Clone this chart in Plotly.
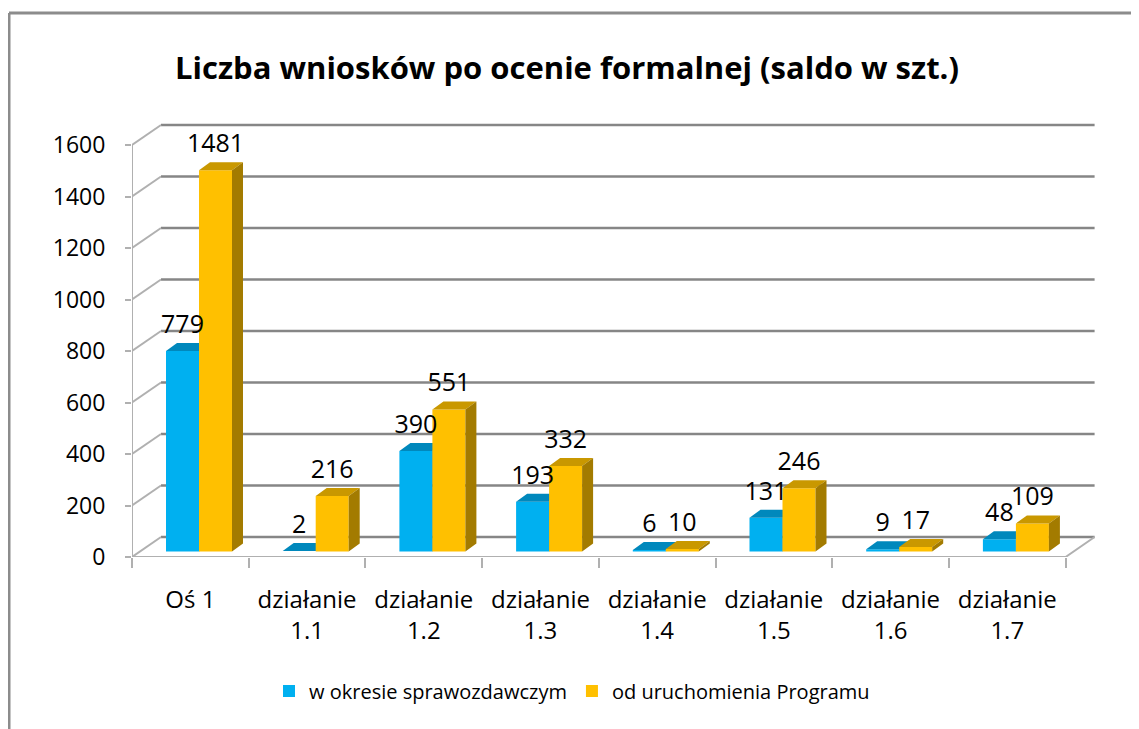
import plotly.graph_objects as go

# ---------------- data ----------------
categories = ["Oś 1", "działanie<br>1.1", "działanie<br>1.2", "działanie<br>1.3",
              "działanie<br>1.4", "działanie<br>1.5", "działanie<br>1.6", "działanie<br>1.7"]
w_okresie = [779, 2, 390, 193, 6, 131, 9, 48]
od_uruchomienia = [1481, 216, 551, 332, 10, 246, 17, 109]
series_names = ["w okresie sprawozdawczym", "od uruchomienia Programu"]
y_ticks = [0, 200, 400, 600, 800, 1000, 1200, 1400, 1600]
title_text = "Liczba wniosków po ocenie formalnej (saldo w szt.)"

# ---------------- geometry (pixels -> axis units) ----------------
W, H = 1139, 729          # window size
OFF = 8                   # page body margin
FIG_W, FIG_H = W - OFF, H - OFF
L_PX, R_PX, T_PX, B_PX = 132, 1100, 118, 557   # plot area in window pixels
CAT_PX = 116.7
PX_PER_UNIT = 412 / 1600
X_MIN = -0.5
X_MAX = X_MIN + (R_PX - L_PX) / CAT_PX
Y_MAX = (B_PX - T_PX) / PX_PER_UNIT
N = len(categories)


def ux(px):
    return px / CAT_PX


def uy(px):
    return px / PX_PER_UNIT


WALL_DX, WALL_DY = ux(29), uy(20)
BAR_BASE = uy(5.5)
DEPTH_DX, DEPTH_DY = ux(11), uy(8)
BAR_W = ux(33)
BAR0 = ux(34) - 0.5  # left edge of first bar relative to category centre

FONT = "Open Sans"
GRID_DARK = "#868686"
GRID_LIGHT = "#b0b0b0"

colors = [
    dict(front="#00B0F0", top="#0088BC", side="#0078A6"),
    dict(front="#FFC000", top="#C99800", side="#A37B00"),
]

fig = go.Figure()

# ---------------- walls / grid ----------------
gx, gy = [], []
for v in y_ticks:
    gx += [X_MIN + WALL_DX, N - 0.5 + WALL_DX, None]
    gy += [v + WALL_DY, v + WALL_DY, None]
fig.add_trace(go.Scatter(x=gx, y=gy, mode="lines", line=dict(color=GRID_DARK, width=2.5),
                         hoverinfo="skip", showlegend=False, cliponaxis=False))

cx, cy = [], []
for v in y_ticks:
    cx += [X_MIN, X_MIN + WALL_DX, None]
    cy += [v, v + WALL_DY, None]
cx += [X_MIN, X_MIN, None]
cy += [y_ticks[0], y_ticks[-1], None]
cx += [X_MIN, N - 0.5, N - 0.5 + WALL_DX, None]
cy += [0, 0, WALL_DY, None]
fig.add_trace(go.Scatter(x=cx, y=cy, mode="lines", line=dict(color=GRID_LIGHT, width=2),
                         hoverinfo="skip", showlegend=False, cliponaxis=False))

# ---------------- 3D bars ----------------
for s, vals in enumerate([w_okresie, od_uruchomienia]):
    fx, fy, tx, ty, sx, sy = [], [], [], [], [], []
    for i, v in enumerate(vals):
        x0 = i + BAR0 + s * BAR_W
        x1 = x0 + BAR_W
        b = BAR_BASE
        fx += [x0, x1, x1, x0, x0, None]
        fy += [b, b, b + v, b + v, b, None]
        tx += [x0, x1, x1 + DEPTH_DX, x0 + DEPTH_DX, x0, None]
        ty += [b + v, b + v, b + v + DEPTH_DY, b + v + DEPTH_DY, b + v, None]
        sx += [x1, x1 + DEPTH_DX, x1 + DEPTH_DX, x1, x1, None]
        sy += [b, b + DEPTH_DY, b + v + DEPTH_DY, b + v, b, None]
    for px_, py_, col in [(fx, fy, colors[s]["front"]), (tx, ty, colors[s]["top"]),
                          (sx, sy, colors[s]["side"])]:
        fig.add_trace(go.Scatter(x=px_, y=py_, mode="lines", fill="toself", fillcolor=col,
                                 line=dict(width=0, color=col), hoverinfo="skip",
                                 showlegend=False, cliponaxis=False))

# ---------------- data labels ----------------
for s, vals in enumerate([w_okresie, od_uruchomienia]):
    lx = [i + BAR0 + s * BAR_W + BAR_W / 2 for i in range(N)]
    ly = [v + BAR_BASE + DEPTH_DY + uy(4) for v in vals]
    fig.add_trace(go.Scatter(x=lx, y=ly, mode="text", text=[str(v) for v in vals],
                             textposition="top center",
                             textfont=dict(family=FONT, size=25, color="#000000"),
                             hoverinfo="skip", showlegend=False, cliponaxis=False))

# ---------------- legend entries ----------------
for s, name in enumerate(series_names):
    fig.add_trace(go.Scatter(x=[None], y=[None], mode="markers", name=name,
                             marker=dict(symbol="square", size=12, color=colors[s]["front"])))


def xp(px):
    return (px - L_PX) / (R_PX - L_PX)


def yp(py):
    return (B_PX - py) / (B_PX - T_PX)


fig.update_layout(
    width=FIG_W, height=FIG_H, autosize=False,
    margin=dict(l=L_PX - OFF, r=OFF + FIG_W - R_PX, t=T_PX - OFF, b=OFF + FIG_H - B_PX, pad=0),
    paper_bgcolor="white", plot_bgcolor="white",
    font=dict(family=FONT, color="#000000"),
    title=dict(text="<b>" + title_text + "</b>", x=(567 - OFF) / FIG_W, xanchor="center",
               xref="container", yref="container", y=1 - (68 - OFF) / FIG_H, yanchor="middle",
               font=dict(family=FONT, size=31, color="#000000")),
    xaxis=dict(range=[X_MIN, X_MAX], tickmode="array", tickvals=list(range(N)),
               ticktext=categories, showgrid=False, zeroline=False, showline=False,
               ticks="outside", ticklen=0, ticklabelstandoff=21, automargin=False,
               tickfont=dict(family=FONT, size=24, color="#000000"),
               minor=dict(tickmode="array", tickvals=[X_MIN + k for k in range(N + 1)],
                          ticks="outside", ticklen=10, tickwidth=2, tickcolor=GRID_LIGHT,
                          showgrid=False)),
    yaxis=dict(range=[0, Y_MAX], tickmode="array", tickvals=y_ticks,
               showgrid=False, zeroline=False, showline=False,
               ticks="outside", ticklen=6, tickwidth=2, tickcolor=GRID_LIGHT,
               ticklabelstandoff=15, automargin=False,
               tickfont=dict(family=FONT, size=23, color="#000000")),
    legend=dict(orientation="h", xref="container", yref="container",
                x=(572 - OFF) / FIG_W, xanchor="center", y=1 - (691 - OFF) / FIG_H,
                yanchor="middle",
                font=dict(family=FONT, size=20, color="#000000"),
                bgcolor="rgba(0,0,0,0)", itemwidth=30),
    shapes=[
        dict(type="line", xref="paper", yref="paper", x0=xp(9), x1=xp(W + 5),
             y0=yp(13), y1=yp(13), line=dict(color="#8c8c8c", width=3)),
        dict(type="line", xref="paper", yref="paper", x0=xp(9), x1=xp(9),
             y0=yp(13), y1=yp(H + 5), line=dict(color="#8c8c8c", width=3)),
    ],
)

fig.write_html("out.html")
